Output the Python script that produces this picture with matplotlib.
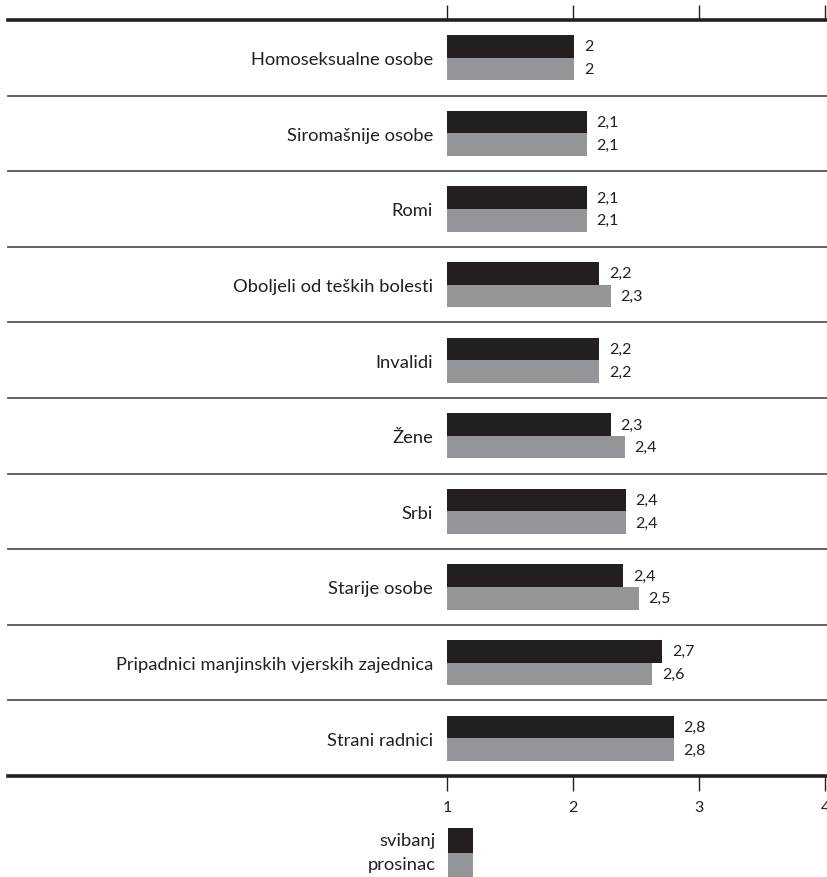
import matplotlib
matplotlib.use("Agg")
import matplotlib.pyplot as plt
import numpy as np

plt.rcParams['font.family'] = ['Lato', 'DejaVu Sans']

# podaci
kategorije = ["Homoseksualne osobe", "Siromašnije osobe", "Romi",
              "Oboljeli od teških bolesti", "Invalidi", "Žene", "Srbi",
              "Starije osobe", "Pripadnici manjinskih vjerskih zajednica",
              "Strani radnici"]
svibanj = [2.01, 2.11, 2.11, 2.21, 2.21, 2.30, 2.42, 2.40, 2.71, 2.80]
prosinac = [2.01, 2.11, 2.11, 2.30, 2.21, 2.41, 2.42, 2.52, 2.63, 2.80]
svibanj_lab = ["2", "2,1", "2,1", "2,2", "2,2", "2,3", "2,4", "2,4", "2,7", "2,8"]
prosinac_lab = ["2", "2,1", "2,1", "2,3", "2,2", "2,4", "2,4", "2,5", "2,6", "2,8"]
ticks = [1, 2, 3, 4]
serije = ["svibanj", "prosinac"]

tamna = "#231f20"
siva = "#939598"

W, H = 828, 878
fig = plt.figure(figsize=(W / 100, H / 100), dpi=100)
ax = fig.add_axes([447 / W, (H - 777) / H, 378 / W, 756 / H])

y = np.arange(len(kategorije))
h = 0.30
ax.barh(y - h / 2, [v - 1 for v in svibanj], left=1, height=h, color=tamna)
ax.barh(y + h / 2, [v - 1 for v in prosinac], left=1, height=h, color=siva)

for i in range(len(kategorije)):
    ax.annotate(svibanj_lab[i], (svibanj[i], y[i] - h / 2), xytext=(7, 0),
                textcoords="offset points", va="center", ha="left", fontsize=11.5,
                color=tamna)
    ax.annotate(prosinac_lab[i], (prosinac[i], y[i] + h / 2), xytext=(7, 0),
                textcoords="offset points", va="center", ha="left", fontsize=11.5,
                color=tamna)

ax.set_xlim(1, 4)
ax.set_ylim(len(kategorije) - 0.5, -0.5)

# linije izmedju kategorija
x0 = (8 - 447) / 378
for i in range(len(kategorije) - 1):
    ax.axhline(i + 0.5, xmin=x0, xmax=1.01, color="#555555", lw=1.3, clip_on=False)
ax.axhline(-0.5, xmin=x0, xmax=1.01, color=tamna, lw=2.6, clip_on=False)
ax.axhline(len(kategorije) - 0.5, xmin=x0, xmax=1.01, color=tamna, lw=2.6, clip_on=False)

for s in ax.spines.values():
    s.set_visible(False)

ax.set_yticks(y)
ax.set_yticklabels(kategorije, fontsize=13.2, color=tamna)
ax.tick_params(axis="y", length=0, pad=10)
ax.set_xticks(ticks)
ax.set_xticklabels([str(t) for t in ticks], fontsize=11.5, color=tamna)
ax.tick_params(axis="x", bottom=True, top=True, direction="out", length=11,
               width=1, color=tamna, pad=6)

# legenda
lax = fig.add_axes([448 / W, 0, 25 / W, 49 / H])
lax.bar([0], [1], bottom=1, width=1, color=tamna)
lax.bar([0], [1], bottom=0, width=1, color=siva)
lax.set_xlim(-0.5, 0.5)
lax.set_ylim(0, 2)
lax.axis("off")
for k, name in enumerate(serije):
    fig.text(436 / W, (H - 841 - 24 * k) / H, name, ha="right", va="center",
             fontsize=13.2, color=tamna)

fig.savefig("out.png", dpi=100)
